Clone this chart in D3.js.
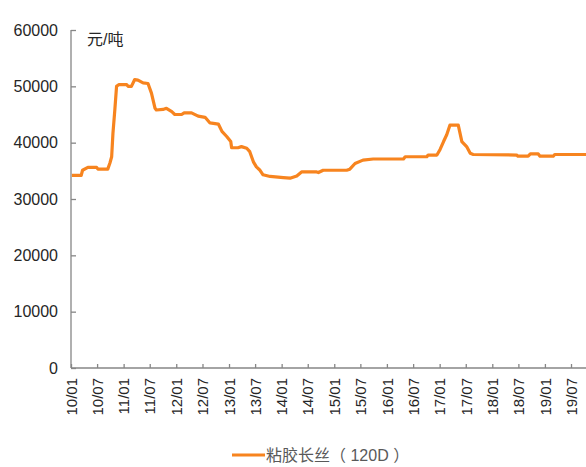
<!DOCTYPE html>
<html><head><meta charset="utf-8">
<script src="https://cdn.jsdelivr.net/npm/d3@7"></script>
<style>
html,body{margin:0;padding:0;background:#fff;}
svg{display:block;}
text{font-family:"Liberation Sans","Noto Sans CJK SC",Arial,sans-serif;}
</style></head>
<body>
<svg id="chart" width="586" height="467"></svg>
<script>
const dates = ["2010-01-07","2010-03-13","2010-03-22","2010-04-28","2010-06-28","2010-07-07","2010-09-13","2010-09-28","2010-10-10","2010-10-19","2010-11-01","2010-11-13","2010-11-28","2011-01-22","2011-02-01","2011-02-24","2011-03-19","2011-04-10","2011-05-16","2011-06-19","2011-07-13","2011-08-07","2011-08-16","2011-10-01","2011-10-25","2011-12-01","2011-12-22","2012-02-07","2012-02-25","2012-04-16","2012-06-01","2012-07-19","2012-08-22","2012-10-19","2012-11-13","2012-12-16","2013-01-13","2013-01-19","2013-03-04","2013-03-28","2013-05-04","2013-05-25","2013-06-19","2013-07-10","2013-08-04","2013-08-25","2013-10-13","2014-01-13","2014-02-28","2014-04-16","2014-05-19","2014-09-01","2014-09-13","2014-10-16","2015-03-28","2015-04-19","2015-05-25","2015-07-19","2015-09-28","2016-04-25","2016-05-07","2016-10-04","2016-10-13","2016-12-13","2017-01-04","2017-01-28","2017-02-19","2017-03-13","2017-05-10","2017-06-04","2017-07-07","2017-08-01","2017-08-22","2018-06-19","2018-06-28","2018-09-07","2018-09-22","2018-11-16","2018-11-28","2019-02-28","2019-03-10","2019-10-13"];
const prices = [34200,34200,35100,35600,35600,35300,35300,36400,37500,41700,45800,50000,50300,50300,50000,50000,51200,51100,50600,50500,48800,46100,45800,45900,46100,45500,45000,45000,45300,45300,44700,44500,43500,43300,42000,41100,40200,39100,39100,39300,39000,38400,36600,35700,35100,34300,34000,33800,33700,34100,34800,34800,34700,35100,35100,35300,36300,36900,37100,37100,37500,37500,37800,37800,38800,40200,41400,43100,43100,40200,39300,38100,37900,37800,37600,37600,38000,38000,37600,37600,37900,37900];
const yTicks = [0,10000,20000,30000,40000,50000,60000];
const seriesName = "粘胶长丝（ 120D ）";
const unitLabel = "元/吨";

const parse = d3.timeParse("%Y-%m-%d");
const data = dates.map((d,i)=>({date:parse(d), value:prices[i]}));

const svg = d3.select("#chart");
const x = d3.scaleTime().domain([new Date(2010,0,1), new Date(2019,9,13)]).range([71, 586]);
const y = d3.scaleLinear().domain([0,60000]).range([368, 30]);
const axisColor = "#868686";
const latin = "'Liberation Sans',Arial,sans-serif";
const mixed = "'Liberation Sans','Noto Sans CJK SC',sans-serif";

// y axis
const yAxis = svg.append("g").attr("transform","translate(71,0)")
  .call(d3.axisLeft(y).tickValues(yTicks).tickSize(-5).tickPadding(13).tickFormat(d3.format("d")));
yAxis.select(".domain").attr("stroke",axisColor).attr("stroke-width",1.3).attr("d","M0,30V368");
yAxis.selectAll(".tick line").attr("stroke",axisColor).attr("stroke-width",1.3);
yAxis.selectAll(".tick text").attr("font-size",16).attr("fill","#262626").style("font-family",latin);

// x axis
const xTicks = d3.timeMonth.range(new Date(2010,0,1), new Date(2019,9,2), 6);
const xAxis = svg.append("g").attr("transform","translate(0,368)")
  .call(d3.axisBottom(x).tickValues(xTicks).tickSize(-4).tickFormat(d3.timeFormat("%y/%m")));
xAxis.select(".domain").attr("stroke",axisColor).attr("stroke-width",1.3).attr("d","M71,0H586");
xAxis.selectAll(".tick line").attr("stroke",axisColor).attr("stroke-width",1.3);
xAxis.selectAll(".tick text")
  .attr("font-size",15).attr("fill","#262626")
  .attr("transform","rotate(-90)")
  .attr("text-anchor","end")
  .attr("x",-10).attr("y",0).attr("dy","0.35em")
  .style("font-family",latin);

// unit label
svg.append("text").attr("x",87).attr("y",45).attr("font-size",16).attr("fill","#262626")
  .style("font-family",mixed).text(unitLabel);

// line
const line = d3.line().x(d=>x(d.date)).y(d=>y(d.value));
svg.append("path").datum(data).attr("d",line).attr("fill","none")
  .attr("stroke","#F7841F").attr("stroke-width",3.2).attr("stroke-linejoin","round");

// legend
svg.append("line").attr("x1",232).attr("x2",265).attr("y1",455).attr("y2",455)
  .attr("stroke","#F7841F").attr("stroke-width",3);
svg.append("text").attr("x",266).attr("y",461).attr("font-size",16).attr("fill","#595959")
  .style("font-family",mixed).text(seriesName);
</script>
</body></html>
